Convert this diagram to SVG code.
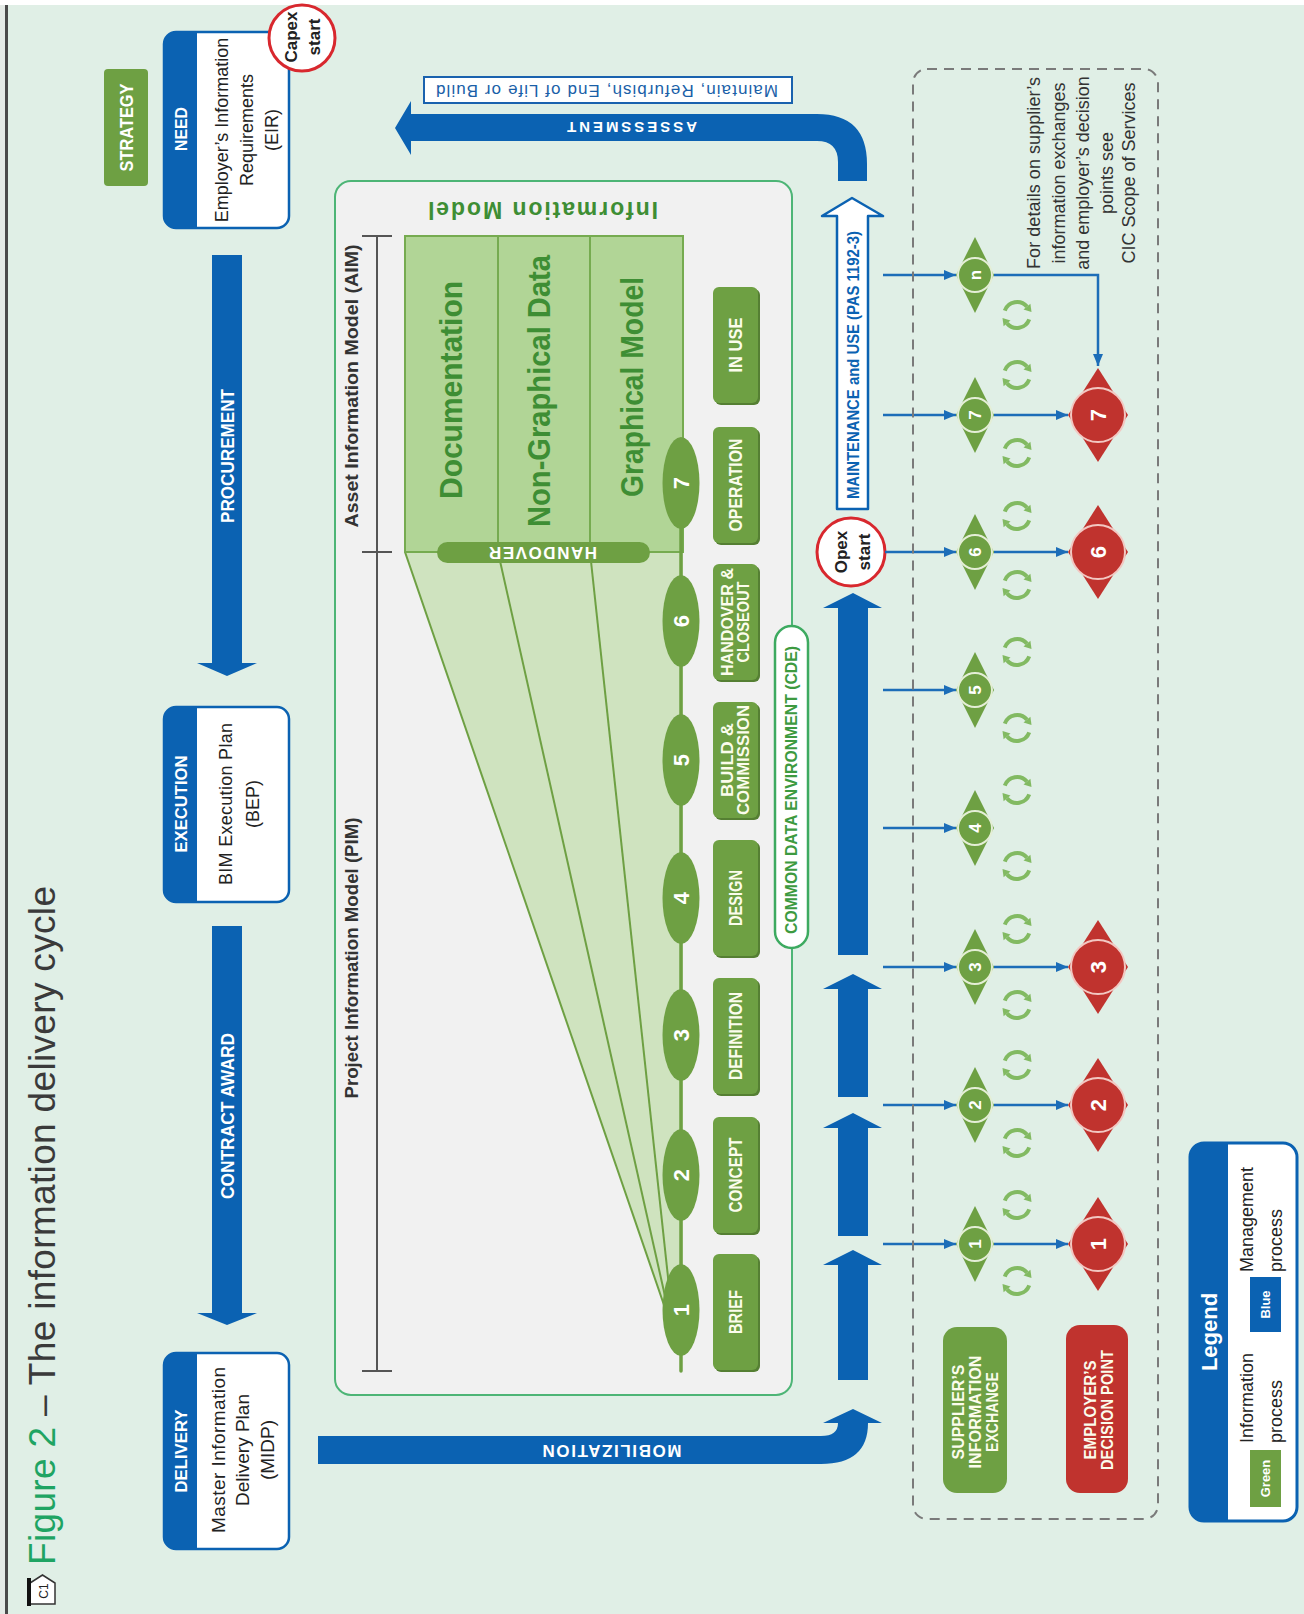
<svg xmlns="http://www.w3.org/2000/svg" width="1304" height="1614" viewBox="0 0 1304 1614">
<defs>
<style>
text{font-family:"Liberation Sans",Arial,Helvetica,sans-serif}
.c{text-anchor:middle;dominant-baseline:central}
.wb{fill:#fff;font-weight:bold}
.wy{fill:#FBFCEC;font-weight:bold}
.dk{fill:#222}
.blu{fill:#0B62B2}
.gbx{fill:#6EA043}
.gsh{fill:#557F33}
.bx{fill:#fff;stroke:#0B62B2;stroke-width:2.5}
.con{stroke:#1C6DB8;stroke-width:2.5;fill:none}
.cy{fill:none;stroke:#82BA62;stroke-width:4}
.cyh{fill:#82BA62}
.gd{fill:#6EA043}
.gc{fill:#6EA043;stroke:#E4EED6;stroke-width:2}
.rdm{fill:#C0332E}
.rc{fill:#C0332E;stroke:#F2C8C2;stroke-width:2}
.gt{fill:#3E8E34;font-weight:bold}
</style>
<marker id="ah" viewBox="0 0 12 10" markerWidth="12" markerHeight="10" refX="12" refY="5" orient="auto" markerUnits="userSpaceOnUse"><path d="M0,0 L12,5 L0,10 Z" fill="#1C6DB8"/></marker>
<g id="cyc">
<path class="cy" d="M-12.2,-4.4 A13,13 0 0 1 9.96,-8.36"/>
<path class="cyh" d="M13.4,-11.3 L6.5,-5.5 L14.5,-3 Z"/>
<path class="cy" d="M12.2,4.4 A13,13 0 0 1 -9.96,8.36"/>
<path class="cyh" d="M-13.4,11.3 L-6.5,5.5 L-14.5,3 Z"/>
</g>
</defs>

<rect width="1304" height="1614" fill="#E0EFE6"/>
<rect width="1304" height="5" fill="#fff"/>
<rect x="0" y="5" width="5" height="1609" fill="#E4EAE6"/>
<rect x="5" y="5" width="3" height="1609" fill="#4A4A4A"/>

<g id="title">
<path d="M30,1604 V1583 L42.5,1575 L55,1583 V1604 Z" fill="#fff" stroke="#333" stroke-width="1.5"/>
<rect x="27" y="1578" width="4" height="28" fill="#111"/>
<text class="c dk" transform="translate(43.5,1591) rotate(-90)" font-size="12">C1</text>
<text transform="translate(55,1565) rotate(-90)" font-size="37" textLength="679"><tspan fill="#1FA463">Figure 2</tspan><tspan fill="#3A3A3A"> – The information delivery cycle</tspan></text>
</g>

<g id="strategy">
<rect x="104" y="69" width="44" height="117" rx="4" class="gbx"/>
<text class="c wb" transform="translate(126,127.5) rotate(-90)" font-size="19" textLength="88" lengthAdjust="spacingAndGlyphs">STRATEGY</text>
</g>

<g id="need">
<rect x="164" y="32" width="125" height="196" rx="12" class="bx"/>
<path d="M176,32 H197 V228 H176 A12,12 0 0 1 164,216 V44 A12,12 0 0 1 176,32 Z" class="blu"/>
<text class="c wb" transform="translate(181,129) rotate(-90)" font-size="17" textLength="44" lengthAdjust="spacingAndGlyphs">NEED</text>
<text class="c dk" transform="translate(243,130) rotate(-90)" font-size="18"><tspan x="0" y="-21">Employer’s Information</tspan><tspan x="0" y="4">Requirements</tspan><tspan x="0" y="29">(EIR)</tspan></text>
</g>

<g id="capex">
<circle cx="302" cy="38" r="33" fill="#fff" stroke="#D8282E" stroke-width="3"/>
<text class="c dk" transform="translate(302,37) rotate(-90)" font-size="17" font-weight="bold"><tspan x="0" y="-11">Capex</tspan><tspan x="0" y="12">start</tspan></text>
</g>

<g id="execution">
<rect x="164" y="707" width="125" height="195" rx="12" class="bx"/>
<path d="M176,707 H197 V902 H176 A12,12 0 0 1 164,890 V719 A12,12 0 0 1 176,707 Z" class="blu"/>
<text class="c wb" transform="translate(181,804) rotate(-90)" font-size="17" textLength="97" lengthAdjust="spacingAndGlyphs">EXECUTION</text>
<text class="c dk" transform="translate(240,804) rotate(-90)" font-size="18"><tspan x="0" y="-14" textLength="162">BIM Execution Plan</tspan><tspan x="0" y="13">(BEP)</tspan></text>
</g>

<g id="delivery">
<rect x="164" y="1353" width="125" height="196" rx="12" class="bx"/>
<path d="M176,1353 H197 V1549 H176 A12,12 0 0 1 164,1537 V1365 A12,12 0 0 1 176,1353 Z" class="blu"/>
<text class="c wb" transform="translate(181,1451) rotate(-90)" font-size="17" textLength="83" lengthAdjust="spacingAndGlyphs">DELIVERY</text>
<text class="c dk" transform="translate(242,1450) rotate(-90)" font-size="19"><tspan x="0" y="-24" textLength="166">Master Information</tspan><tspan x="0" y="0">Delivery Plan</tspan><tspan x="0" y="25">(MIDP)</tspan></text>
</g>

<g id="info-model">
<rect x="335" y="181" width="457" height="1214" rx="16" fill="#F1F1F1" stroke="#4DB576" stroke-width="2"/>
<text class="c" transform="translate(543,210) rotate(180)" font-size="23" font-weight="bold" fill="#3E8E34" textLength="230">Information Model</text>
<g id="aim-pim" stroke="#555" stroke-width="2">
<line x1="377" y1="236" x2="377" y2="1371"/>
<line x1="362" y1="236" x2="392" y2="236"/>
<line x1="362" y1="552" x2="392" y2="552"/>
<line x1="362" y1="1371" x2="392" y2="1371"/>
</g>
<text class="c" transform="translate(352,386) rotate(-90)" font-size="18" font-weight="bold" fill="#333" textLength="283" lengthAdjust="spacingAndGlyphs">Asset Information Model (AIM)</text>
<text class="c" transform="translate(352,958) rotate(-90)" font-size="18" font-weight="bold" fill="#333" textLength="281" lengthAdjust="spacingAndGlyphs">Project Information Model (PIM)</text>
<polygon points="405,552 683,552 683,1300 664,1306" fill="#CFE3BF"/>
<g stroke="#6EA043" stroke-width="2">
<line x1="405" y1="552" x2="664" y2="1305"/>
<line x1="498" y1="552" x2="667" y2="1305"/>
<line x1="590" y1="552" x2="671" y2="1305"/>
</g>
<rect x="405" y="236" width="278" height="316" fill="#B1D596" stroke="#76AB50" stroke-width="2"/>
<line x1="498" y1="236" x2="498" y2="552" stroke="#76AB50" stroke-width="2"/>
<line x1="590" y1="236" x2="590" y2="552" stroke="#76AB50" stroke-width="2"/>
<text class="c gt" transform="translate(451,390) rotate(-90)" font-size="32" textLength="218" lengthAdjust="spacingAndGlyphs">Documentation</text>
<text class="c gt" transform="translate(539,391) rotate(-90)" font-size="32" textLength="272" lengthAdjust="spacingAndGlyphs">Non-Graphical Data</text>
<text class="c gt" transform="translate(632,387) rotate(-90)" font-size="32" textLength="220" lengthAdjust="spacingAndGlyphs">Graphical Model</text>
<rect x="437" y="542" width="213" height="21" rx="10.5" class="gbx"/>
<text class="c wb" transform="translate(543,552.5) rotate(180)" font-size="17" textLength="108">HANDOVER</text>
<line x1="681" y1="483" x2="681" y2="1371" stroke="#6EA043" stroke-width="3.5" stroke-linecap="round"/>
<g id="stages">
<ellipse cx="681" cy="483" rx="18.5" ry="46" class="gd"/>
<text class="c wb" transform="translate(681,483) rotate(-90)" font-size="22">7</text>
<ellipse cx="681" cy="621" rx="18.5" ry="46" class="gd"/>
<text class="c wb" transform="translate(681,621) rotate(-90)" font-size="22">6</text>
<ellipse cx="681" cy="760" rx="18.5" ry="46" class="gd"/>
<text class="c wb" transform="translate(681,760) rotate(-90)" font-size="22">5</text>
<ellipse cx="681" cy="898" rx="18.5" ry="46" class="gd"/>
<text class="c wb" transform="translate(681,898) rotate(-90)" font-size="22">4</text>
<ellipse cx="681" cy="1035" rx="18.5" ry="46" class="gd"/>
<text class="c wb" transform="translate(681,1035) rotate(-90)" font-size="22">3</text>
<ellipse cx="681" cy="1175" rx="18.5" ry="46" class="gd"/>
<text class="c wb" transform="translate(681,1175) rotate(-90)" font-size="22">2</text>
<ellipse cx="681" cy="1310" rx="18.5" ry="46" class="gd"/>
<text class="c wb" transform="translate(681,1310) rotate(-90)" font-size="22">1</text>
</g>
<g id="stage-boxes">
<rect x="715" y="289" width="45" height="116" rx="6" class="gsh"/><rect x="713" y="287" width="45" height="116" rx="6" class="gbx"/>
<text class="c wy" transform="translate(735.5,345) rotate(-90)" font-size="19" textLength="55" lengthAdjust="spacingAndGlyphs">IN USE</text>
<rect x="715" y="429" width="45" height="116" rx="6" class="gsh"/><rect x="713" y="427" width="45" height="116" rx="6" class="gbx"/>
<text class="c wy" transform="translate(735.5,485) rotate(-90)" font-size="19" textLength="93" lengthAdjust="spacingAndGlyphs">OPERATION</text>
<rect x="715" y="566" width="45" height="116" rx="6" class="gsh"/><rect x="713" y="564" width="45" height="116" rx="6" class="gbx"/>
<text class="c wy" transform="translate(735.5,622) rotate(-90)" font-size="16"><tspan x="0" y="-8.5" textLength="108" lengthAdjust="spacingAndGlyphs">HANDOVER &amp;</tspan><tspan x="0" y="7.5" textLength="81" lengthAdjust="spacingAndGlyphs">CLOSEOUT</tspan></text>
<rect x="715" y="704" width="45" height="116" rx="6" class="gsh"/><rect x="713" y="702" width="45" height="116" rx="6" class="gbx"/>
<text class="c wy" transform="translate(735.5,760) rotate(-90)" font-size="16"><tspan x="0" y="-8.5" textLength="74" lengthAdjust="spacingAndGlyphs">BUILD &amp;</tspan><tspan x="0" y="7.5" textLength="110" lengthAdjust="spacingAndGlyphs">COMMISSION</tspan></text>
<rect x="715" y="842" width="45" height="116" rx="6" class="gsh"/><rect x="713" y="840" width="45" height="116" rx="6" class="gbx"/>
<text class="c wy" transform="translate(735.5,898) rotate(-90)" font-size="19" textLength="56" lengthAdjust="spacingAndGlyphs">DESIGN</text>
<rect x="715" y="980" width="45" height="116" rx="6" class="gsh"/><rect x="713" y="978" width="45" height="116" rx="6" class="gbx"/>
<text class="c wy" transform="translate(735.5,1036) rotate(-90)" font-size="19" textLength="88" lengthAdjust="spacingAndGlyphs">DEFINITION</text>
<rect x="715" y="1119" width="45" height="116" rx="6" class="gsh"/><rect x="713" y="1117" width="45" height="116" rx="6" class="gbx"/>
<text class="c wy" transform="translate(735.5,1175) rotate(-90)" font-size="19" textLength="75" lengthAdjust="spacingAndGlyphs">CONCEPT</text>
<rect x="715" y="1256" width="45" height="116" rx="6" class="gsh"/><rect x="713" y="1254" width="45" height="116" rx="6" class="gbx"/>
<text class="c wy" transform="translate(735.5,1312) rotate(-90)" font-size="19" textLength="44" lengthAdjust="spacingAndGlyphs">BRIEF</text>
</g>
<g id="cde">
<rect x="775" y="626" width="33" height="322" rx="16.5" fill="#fff" stroke="#3DAA60" stroke-width="2.5"/>
<text class="c" transform="translate(791.5,790) rotate(-90)" font-size="17" font-weight="bold" fill="#3D9A40" textLength="288" lengthAdjust="spacingAndGlyphs">COMMON DATA ENVIRONMENT (CDE)</text>
</g>
</g>

<g id="maintain">
<rect x="424" y="77" width="368" height="26" fill="#fff" stroke="#1A62AE" stroke-width="2"/>
<text class="c" transform="translate(607,90) rotate(180)" font-size="17" fill="#1A5FA8" textLength="342">Maintain, Refurbish, End of Life or Build</text>
</g>

<g id="maintenance">
<path d="M852,198 L883,216 L868,216 L868,509 L837,509 L837,216 L822,216 Z" fill="#fff" stroke="#0B62B2" stroke-width="2.5" stroke-linejoin="round"/>
<text class="c" transform="translate(853,365) rotate(-90)" font-size="16" font-weight="bold" fill="#0B62B2" textLength="268" lengthAdjust="spacingAndGlyphs">MAINTENANCE and USE (PAS 1192-3)</text>
</g>

<g id="opex">
<circle cx="851" cy="552" r="34" fill="#fff" stroke="#D8282E" stroke-width="3"/>
<text class="c dk" transform="translate(852,552) rotate(-90)" font-size="17" font-weight="bold"><tspan x="0" y="-11">Opex</tspan><tspan x="0" y="12">start</tspan></text>
</g>

<g id="connectors">
<path class="blu" d="M212,255 H242 V663 H257 L227,676 L197,663 H212 Z"/>
<text class="c wb" transform="translate(227,456) rotate(-90)" font-size="19" textLength="134" lengthAdjust="spacingAndGlyphs">PROCUREMENT</text>
<path class="blu" d="M212,926 H242 V1313 H257 L227,1325 L197,1313 H212 Z"/>
<text class="c wb" transform="translate(227,1116) rotate(-90)" font-size="19" textLength="166" lengthAdjust="spacingAndGlyphs">CONTRACT AWARD</text>
<path class="blu" d="M318,1436 L821,1436 Q838,1436 838,1423 L823,1423 L853,1409 L882,1423 L868,1423 Q868,1464 821,1464 L318,1464 Z"/>
<text class="c wb" transform="translate(612,1450) rotate(180)" font-size="17" textLength="139">MOBILIZATION</text>
<path class="blu" d="M867,181 H838 V162 Q838,141 817,141 H411 V155 L395,128 L411,101 V114 H817 Q867,114 867,164 Z"/>
<text class="c wb" transform="translate(632,127.5) rotate(180)" font-size="15" textLength="130">ASSESSMENT</text>
<path class="blu" d="M853,593 L882,608 L868,608 L868,955 L838,955 L838,608 L823,608 Z"/>
<path class="blu" d="M853,974 L882,989 L868,989 L868,1097 L838,1097 L838,989 L823,989 Z"/>
<path class="blu" d="M853,1113 L882,1128 L868,1128 L868,1236 L838,1236 L838,1128 L823,1128 Z"/>
<path class="blu" d="M853,1250 L882,1265 L868,1265 L868,1380 L838,1380 L838,1265 L823,1265 Z"/>
<path class="con" d="M883,275 H956" marker-end="url(#ah)"/>
<path class="con" d="M883,415 H956" marker-end="url(#ah)"/>
<path class="con" d="M885,552 H956" marker-end="url(#ah)"/>
<path class="con" d="M883,690 H956" marker-end="url(#ah)"/>
<path class="con" d="M883,828 H956" marker-end="url(#ah)"/>
<path class="con" d="M883,967 H956" marker-end="url(#ah)"/>
<path class="con" d="M883,1105 H956" marker-end="url(#ah)"/>
<path class="con" d="M883,1244 H956" marker-end="url(#ah)"/>
<path class="con" d="M994,275 H1098 V366" marker-end="url(#ah)"/>
<path class="con" d="M994,415 H1068" marker-end="url(#ah)"/>
<path class="con" d="M994,552 H1068" marker-end="url(#ah)"/>
<path class="con" d="M994,967 H1068" marker-end="url(#ah)"/>
<path class="con" d="M994,1105 H1068" marker-end="url(#ah)"/>
<path class="con" d="M994,1244 H1068" marker-end="url(#ah)"/>
</g>

<g id="exchange-zone">
<rect x="913" y="69" width="245" height="1450" rx="14" fill="none" stroke="#7A7A7A" stroke-width="2" stroke-dasharray="10 7"/>
<text class="c" transform="translate(1081,173) rotate(-90)" font-size="18" fill="#333"><tspan x="0" y="-47" textLength="192">For details on supplier’s</tspan><tspan x="0" y="-22">information exchanges</tspan><tspan x="0" y="2">and employer’s decision</tspan><tspan x="0" y="26">points see</tspan><tspan x="0" y="48">CIC Scope of Services</tspan></text>
</g>

<g id="supplier-exchanges">
<g id="sx-n"><path class="gd" d="M975,237 L994,275 L975,313 L956,275 Z"/><circle class="gc" cx="975" cy="275" r="17"/><text class="c wb" transform="translate(975,275) rotate(-90)" font-size="17">n</text></g>
<g id="sx-7"><path class="gd" d="M975,377 L994,415 L975,453 L956,415 Z"/><circle class="gc" cx="975" cy="415" r="17"/><text class="c wb" transform="translate(975,415) rotate(-90)" font-size="17">7</text></g>
<g id="sx-6"><path class="gd" d="M975,514 L994,552 L975,590 L956,552 Z"/><circle class="gc" cx="975" cy="552" r="17"/><text class="c wb" transform="translate(975,552) rotate(-90)" font-size="17">6</text></g>
<g id="sx-5"><path class="gd" d="M975,652 L994,690 L975,728 L956,690 Z"/><circle class="gc" cx="975" cy="690" r="17"/><text class="c wb" transform="translate(975,690) rotate(-90)" font-size="17">5</text></g>
<g id="sx-4"><path class="gd" d="M975,790 L994,828 L975,866 L956,828 Z"/><circle class="gc" cx="975" cy="828" r="17"/><text class="c wb" transform="translate(975,828) rotate(-90)" font-size="17">4</text></g>
<g id="sx-3"><path class="gd" d="M975,929 L994,967 L975,1005 L956,967 Z"/><circle class="gc" cx="975" cy="967" r="17"/><text class="c wb" transform="translate(975,967) rotate(-90)" font-size="17">3</text></g>
<g id="sx-2"><path class="gd" d="M975,1067 L994,1105 L975,1143 L956,1105 Z"/><circle class="gc" cx="975" cy="1105" r="17"/><text class="c wb" transform="translate(975,1105) rotate(-90)" font-size="17">2</text></g>
<g id="sx-1"><path class="gd" d="M975,1206 L994,1244 L975,1282 L956,1244 Z"/><circle class="gc" cx="975" cy="1244" r="17"/><text class="c wb" transform="translate(975,1244) rotate(-90)" font-size="17">1</text></g>
</g>

<g id="decision-points">
<g id="dp-7"><path class="rdm" d="M1098,368 L1128,415 L1098,462 L1068,415 Z"/><circle class="rc" cx="1098" cy="415" r="27"/><text class="c wb" transform="translate(1098,415) rotate(-90)" font-size="22">7</text></g>
<g id="dp-6"><path class="rdm" d="M1098,505 L1128,552 L1098,599 L1068,552 Z"/><circle class="rc" cx="1098" cy="552" r="27"/><text class="c wb" transform="translate(1098,552) rotate(-90)" font-size="22">6</text></g>
<g id="dp-3"><path class="rdm" d="M1098,920 L1128,967 L1098,1014 L1068,967 Z"/><circle class="rc" cx="1098" cy="967" r="27"/><text class="c wb" transform="translate(1098,967) rotate(-90)" font-size="22">3</text></g>
<g id="dp-2"><path class="rdm" d="M1098,1058 L1128,1105 L1098,1152 L1068,1105 Z"/><circle class="rc" cx="1098" cy="1105" r="27"/><text class="c wb" transform="translate(1098,1105) rotate(-90)" font-size="22">2</text></g>
<g id="dp-1"><path class="rdm" d="M1098,1197 L1128,1244 L1098,1291 L1068,1244 Z"/><circle class="rc" cx="1098" cy="1244" r="27"/><text class="c wb" transform="translate(1098,1244) rotate(-90)" font-size="22">1</text></g>
</g>

<g id="cycles">
<use href="#cyc" x="1017" y="315"/><use href="#cyc" x="1017" y="375"/>
<use href="#cyc" x="1017" y="453"/><use href="#cyc" x="1017" y="516"/>
<use href="#cyc" x="1017" y="585"/><use href="#cyc" x="1017" y="652"/>
<use href="#cyc" x="1017" y="728"/><use href="#cyc" x="1017" y="790"/>
<use href="#cyc" x="1017" y="866"/><use href="#cyc" x="1017" y="929"/>
<use href="#cyc" x="1017" y="1005"/><use href="#cyc" x="1017" y="1065"/>
<use href="#cyc" x="1017" y="1143"/><use href="#cyc" x="1017" y="1205"/>
<use href="#cyc" x="1017" y="1281"/>
</g>

<g id="supplier-box">
<rect x="943" y="1327" width="64" height="166" rx="14" class="gbx"/>
<text class="c wy" transform="translate(975,1412) rotate(-90)" font-size="16"><tspan x="0" y="-17" textLength="95" lengthAdjust="spacingAndGlyphs">SUPPLIER’S</tspan><tspan x="0" y="0" textLength="113" lengthAdjust="spacingAndGlyphs">INFORMATION</tspan><tspan x="0" y="17" textLength="80" lengthAdjust="spacingAndGlyphs">EXCHANGE</tspan></text>
</g>

<g id="employer-box">
<rect x="1066" y="1325" width="62" height="168" rx="14" fill="#C0332E"/>
<text class="c wy" transform="translate(1098,1410) rotate(-90)" font-size="16"><tspan x="0" y="-8.5" textLength="99" lengthAdjust="spacingAndGlyphs">EMPLOYER’S</tspan><tspan x="0" y="8.5" textLength="120" lengthAdjust="spacingAndGlyphs">DECISION POINT</tspan></text>
</g>

<g id="legend">
<rect x="1190" y="1143" width="107" height="378" rx="14" fill="#fff" stroke="#0B62B2" stroke-width="3"/>
<path d="M1204,1143 H1228 V1521 H1204 A14,14 0 0 1 1190,1507 V1157 A14,14 0 0 1 1204,1143 Z" class="blu"/>
<text class="c wb" transform="translate(1209,1332) rotate(-90)" font-size="22">Legend</text>
<rect x="1250" y="1450" width="31" height="57" class="gbx"/>
<text class="c wb" transform="translate(1265.5,1478.5) rotate(-90)" font-size="13">Green</text>
<text class="dk" transform="translate(1253,1443) rotate(-90)" font-size="18"><tspan x="0" y="0">Information</tspan><tspan x="0" y="29">process</tspan></text>
<rect x="1250" y="1277" width="31" height="55" class="blu"/>
<text class="c wb" transform="translate(1265.5,1304.5) rotate(-90)" font-size="13">Blue</text>
<text class="dk" transform="translate(1253,1272) rotate(-90)" font-size="18"><tspan x="0" y="0">Management</tspan><tspan x="0" y="29">process</tspan></text>
</g>
</svg>
